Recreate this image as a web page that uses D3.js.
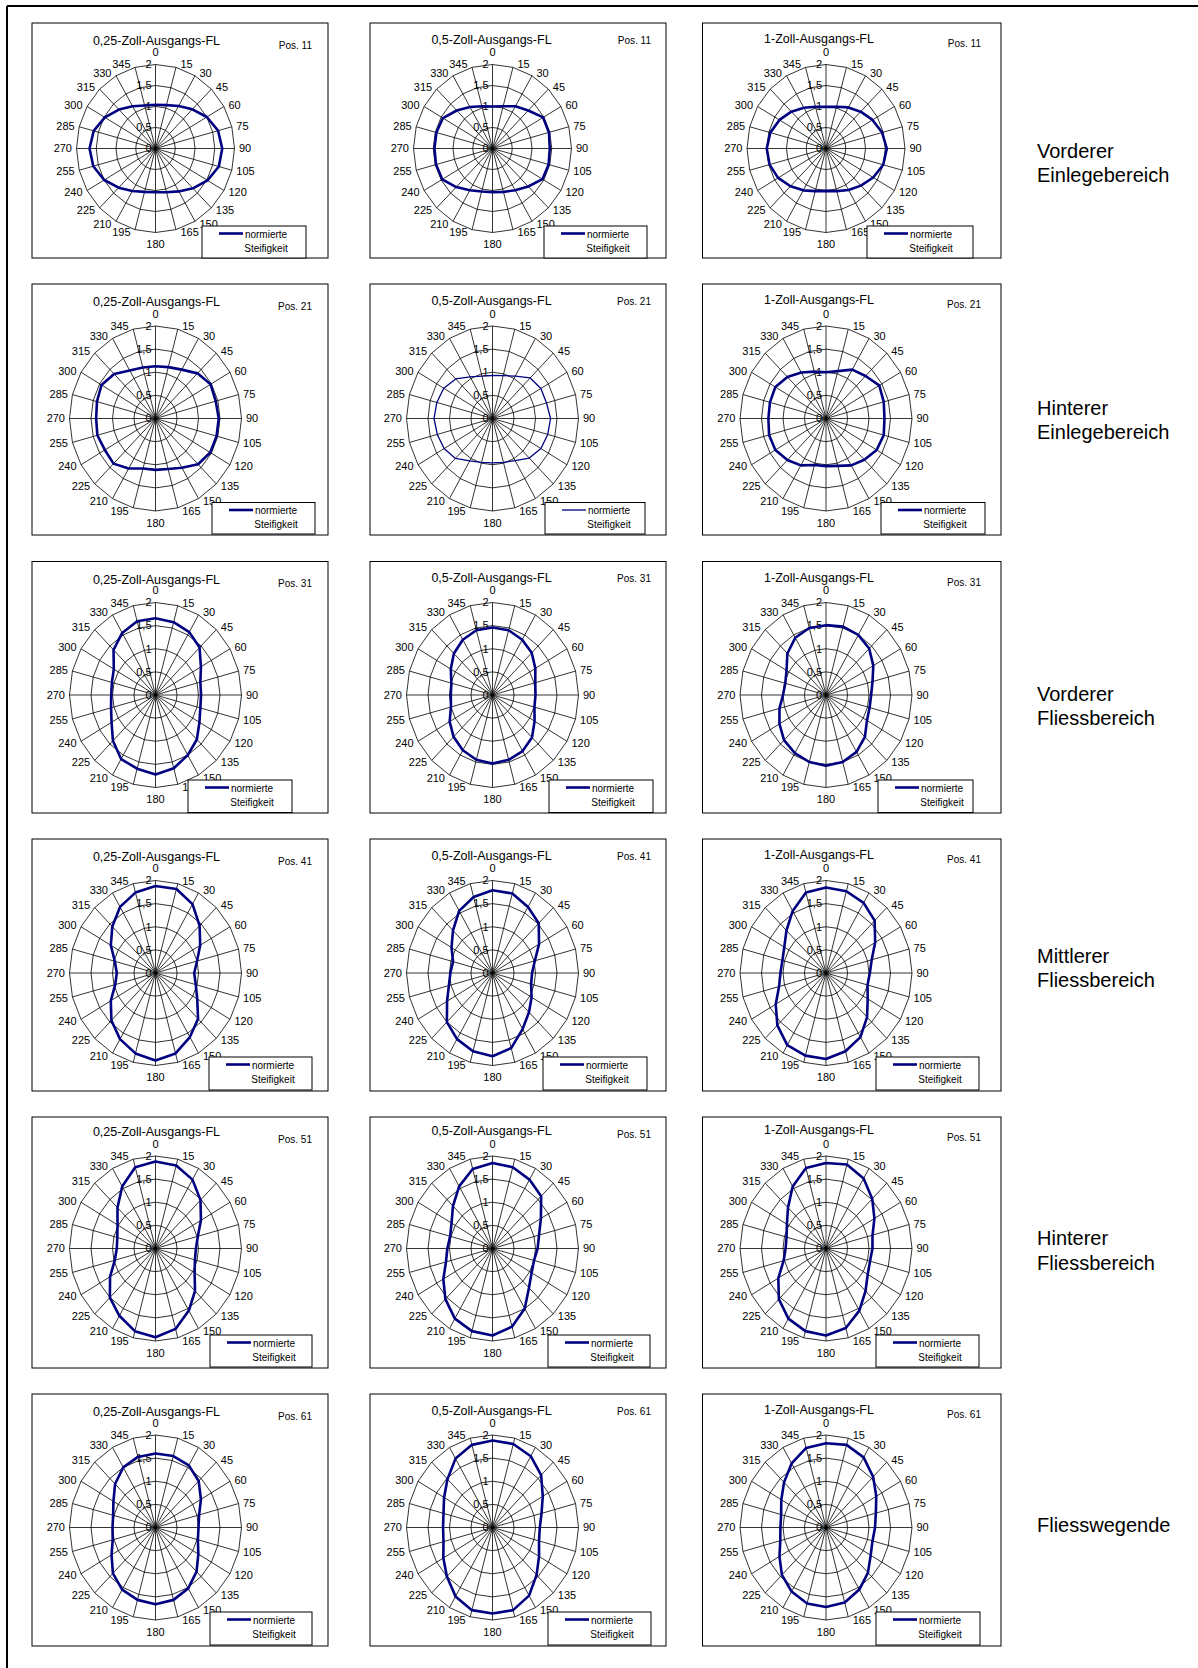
<!DOCTYPE html>
<html>
<head>
<meta charset="utf-8">
<script src="https://cdn.jsdelivr.net/npm/d3@7"></script>
<style>
  html, body { margin: 0; padding: 0; background: #fff; }
  svg { display: block; font-family: "Liberation Sans", Arial, sans-serif; }
</style>
</head>
<body>
<svg id="chart" width="1198" height="1668"></svg>
<script>
// ---- data -------------------------------------------------------------
const angles = [0, 15, 30, 45, 60, 75, 90, 105, 120, 135, 150, 165,
                180, 195, 210, 225, 240, 255, 270, 285, 300, 315, 330, 345];
const radialTicks = [0, 0.5, 1, 1.5, 2];
const radialTickLabels = ["0", "0,5", "1", "1,5", "2"];
const columnTitles = ["0,25-Zoll-Ausgangs-FL", "0,5-Zoll-Ausgangs-FL", "1-Zoll-Ausgangs-FL"];
const positionLabels = ["Pos. 11", "Pos. 21", "Pos. 31", "Pos. 41", "Pos. 51", "Pos. 61"];
const zoneLabels = [
  ["Vorderer", "Einlegebereich"],
  ["Hinterer", "Einlegebereich"],
  ["Vorderer", "Fliessbereich"],
  ["Mittlerer", "Fliessbereich"],
  ["Hinterer", "Fliessbereich"],
  ["Fliesswegende"]
];
const legendLabel = ["normierte", "Steifigkeit"];

// normierte Steifigkeit over angle, one array per position and start fibre length
const p11_025 = [1.04,1.07,1.17,1.32,1.50,1.64,1.69,1.66,1.52,1.34,1.18,1.08,1.04,1.07,1.17,1.32,1.50,1.63,1.67,1.62,1.48,1.31,1.16,1.06];
const p11_05  = [1.00,1.04,1.16,1.28,1.48,1.48,1.45,1.47,1.46,1.28,1.15,1.07,1.04,1.06,1.15,1.30,1.47,1.48,1.47,1.47,1.45,1.28,1.14,1.04];
const p11_1   = [0.99,1.03,1.13,1.24,1.36,1.47,1.54,1.50,1.38,1.25,1.14,1.05,1.01,1.05,1.15,1.27,1.40,1.48,1.50,1.46,1.36,1.24,1.12,1.03];

const p21_025 = [1.13,1.15,1.22,1.38,1.48,1.45,1.47,1.47,1.47,1.40,1.23,1.13,1.11,1.12,1.25,1.38,1.36,1.40,1.38,1.41,1.45,1.36,1.20,1.14];
const p21_05  = [0.93,0.96,1.06,1.24,1.30,1.30,1.35,1.33,1.30,1.21,1.05,0.98,0.96,0.98,1.06,1.22,1.30,1.33,1.36,1.34,1.31,1.21,1.04,0.95];
const p21_1   = [1.00,1.06,1.22,1.30,1.43,1.39,1.36,1.39,1.36,1.26,1.17,1.06,1.03,1.04,1.17,1.27,1.36,1.37,1.34,1.35,1.36,1.27,1.15,1.05];

const p31_025 = [1.66,1.63,1.57,1.45,1.22,1.08,1.06,1.08,1.18,1.36,1.50,1.64,1.72,1.65,1.60,1.40,1.18,1.07,1.03,1.05,1.12,1.38,1.55,1.65];
const p31_05  = [1.46,1.45,1.38,1.29,1.15,1.03,1.00,1.01,1.13,1.30,1.40,1.45,1.48,1.45,1.38,1.28,1.15,1.00,0.97,0.99,1.12,1.27,1.38,1.45];
const p31_1   = [1.51,1.53,1.50,1.42,1.27,1.12,1.05,1.05,1.10,1.28,1.42,1.50,1.53,1.50,1.45,1.38,1.25,1.12,1.00,0.98,1.06,1.27,1.43,1.50];

const p41_025 = [1.88,1.88,1.72,1.45,1.20,1.00,0.90,0.97,1.12,1.40,1.60,1.80,1.89,1.80,1.65,1.45,1.20,0.97,0.90,0.98,1.20,1.42,1.65,1.80];
const p41_05  = [1.79,1.78,1.65,1.52,1.25,1.02,0.92,0.93,1.05,1.20,1.40,1.68,1.80,1.75,1.65,1.50,1.22,1.05,0.98,0.95,1.10,1.30,1.55,1.70];
const p41_1   = [1.85,1.83,1.75,1.60,1.32,1.10,1.02,1.00,1.12,1.35,1.60,1.75,1.86,1.85,1.80,1.60,1.35,1.13,1.06,1.05,1.12,1.30,1.55,1.80];

const p51_025 = [1.88,1.86,1.72,1.48,1.22,1.02,0.94,0.95,1.05,1.30,1.55,1.80,1.92,1.85,1.68,1.50,1.22,0.98,0.90,0.92,1.02,1.25,1.55,1.82];
const p51_05  = [1.85,1.82,1.72,1.60,1.30,1.12,1.05,1.00,1.05,1.20,1.50,1.75,1.88,1.85,1.75,1.55,1.32,1.12,1.05,1.02,1.10,1.30,1.55,1.78];
const p51_1   = [1.85,1.88,1.75,1.52,1.30,1.12,1.08,1.06,1.12,1.30,1.55,1.78,1.88,1.85,1.75,1.55,1.28,1.02,0.94,0.95,1.05,1.25,1.55,1.80];

const p61_025 = [1.60,1.60,1.55,1.42,1.22,1.05,1.00,1.02,1.15,1.35,1.52,1.62,1.66,1.62,1.55,1.40,1.18,1.03,1.00,1.02,1.13,1.33,1.50,1.58];
const p61_05  = [1.88,1.87,1.78,1.60,1.35,1.18,1.10,1.12,1.25,1.45,1.70,1.85,1.86,1.85,1.72,1.50,1.32,1.18,1.15,1.18,1.30,1.48,1.72,1.85];
const p61_1   = [1.82,1.85,1.75,1.55,1.35,1.20,1.14,1.12,1.20,1.38,1.55,1.68,1.72,1.70,1.60,1.45,1.25,1.10,1.06,1.08,1.20,1.38,1.60,1.78];

const seriesGrid = [
  [p11_025, p11_05, p11_1],
  [p21_025, p21_05, p21_1],
  [p31_025, p31_05, p31_1],
  [p41_025, p41_05, p41_1],
  [p51_025, p51_05, p51_1],
  [p61_025, p61_05, p61_1]
];

// ---- layout -----------------------------------------------------------
const colBox = [[32, 328], [370, 666], [702.5, 1001]];
const rowBox = [[23, 258], [284, 535], [561.5, 813], [839, 1091], [1117, 1368], [1394, 1646]];
const colCenter = [155.5, 492.5, 826];
const rowCenter = [148.5, 418.5, 695, 973, 1248.5, 1527.5];
const rowRadius = [[79, 84], [86, 92.5], [86, 92.5], [86, 92.5], [86, 92.5], [86, 92.5]];
const titleX = [156.5, 491.5, 819];
const titleDy = [18, 16.5, 16];
const rowTitleShift = [0, 0, 0, 0, -3, 0];
const posRight = [312, 651, 981];
const posDy = [22, 17, 20.5];
const legendX = [
  [[202, 306], [544, 647], [867, 973]],
  [[212, 315], [545, 645], [881, 985]],
  [[188, 292], [549, 653], [878, 973]],
  [[209, 312], [543, 647], [876, 979]],
  [[210, 312], [548, 650], [876, 979]],
  [[210, 312], [548, 651], [876, 980]]
];
const legendY = [[226, 258], [502.5, 534], [780, 812.5], [1057, 1090], [1335, 1367], [1612, 1645]];
const zoneX = 1037;
const zoneCenter = [163, 420, 706, 968, 1250.5, 1525];
const lineColor = "#000080";

const svg = d3.select("#chart");

// page frame
svg.append("line").attr("x1", 7).attr("y1", 6).attr("x2", 1198).attr("y2", 6)
  .attr("stroke", "#000").attr("stroke-width", 2);
svg.append("line").attr("x1", 7).attr("y1", 6).attr("x2", 7).attr("y2", 1668)
  .attr("stroke", "#000").attr("stroke-width", 2);

const angleScale = d3.scaleLinear().domain([0, 360]).range([0, 2 * Math.PI]);

function drawPanel(r, c) {
  const data = seriesGrid[r][c];
  const [x0, x1] = colBox[c];
  const [y0, y1] = rowBox[r];
  const cx = colCenter[c], cy = rowCenter[r];
  const [rx, ry] = rowRadius[r];
  const sx = d3.scaleLinear().domain([0, 2]).range([0, rx]);
  const sy = d3.scaleLinear().domain([0, 2]).range([0, ry]);
  const pt = (a, v) => {
    const t = angleScale(a);
    return [cx + sx(v) * Math.sin(t), cy - sy(v) * Math.cos(t)];
  };

  const g = svg.append("g");
  g.append("rect").attr("x", x0).attr("y", y0).attr("width", x1 - x0).attr("height", y1 - y0)
    .attr("fill", "#fff").attr("stroke", "#000").attr("stroke-width", 1);

  // grid rings (polygonal, radar style)
  const ring = d3.line().curve(d3.curveLinearClosed);
  radialTicks.filter(t => t > 0).forEach(t => {
    g.append("path").attr("d", ring(angles.map(a => pt(a, t))))
      .attr("fill", "none").attr("stroke", "#000").attr("stroke-width", 0.8);
  });
  // spokes
  g.selectAll("line.spoke").data(angles).join("line").attr("class", "spoke")
    .attr("x1", cx).attr("y1", cy)
    .attr("x2", a => pt(a, 2)[0]).attr("y2", a => pt(a, 2)[1])
    .attr("stroke", "#000").attr("stroke-width", 0.8);

  // angle labels
  g.selectAll("text.ang").data(angles).join("text").attr("class", "ang")
    .attr("font-size", 11).attr("text-anchor", "middle").attr("dy", "0.35em")
    .attr("x", a => {
      const [vx] = pt(a, 2);
      const s = Math.sin(angleScale(a));
      if (Math.abs(s) < 0.01) return vx;
      const halfW = String(a).length * 3.06;
      return vx + Math.sign(s) * (halfW + 4.5);
    })
    .attr("y", a => {
      const [, vy] = pt(a, 2);
      const s = Math.sin(angleScale(a)), k = Math.cos(angleScale(a));
      if (Math.abs(s) < 0.01) return vy - k * 12;
      return vy - k * 3;
    })
    .text(a => a);

  // radial value labels along the 0° spoke
  g.selectAll("text.rad").data(radialTicks).join("text").attr("class", "rad")
    .attr("font-size", 11).attr("text-anchor", "end").attr("dy", "0.35em")
    .attr("x", cx - 4).attr("y", t => cy - sy(t))
    .text((t, i) => radialTickLabels[i]);

  // data polygon
  const thin = (r === 1 && c === 1);
  g.append("path")
    .attr("d", ring(angles.map((a, i) => pt(a, data[i]))))
    .attr("fill", "none").attr("stroke", lineColor)
    .attr("stroke-width", thin ? 1.3 : 2.6).attr("stroke-linejoin", "round");

  // title and position
  g.append("text").attr("x", titleX[c]).attr("y", y0 + titleDy[c] + rowTitleShift[r]).attr("dy", "0.35em")
    .attr("text-anchor", "middle").attr("font-size", 12.5).text(columnTitles[c]);
  g.append("text").attr("x", posRight[c]).attr("y", y0 + posDy[c]).attr("dy", "0.35em")
    .attr("text-anchor", "end").attr("font-size", 10).text(positionLabels[r]);

  // legend
  const [lx0, lx1] = legendX[r][c];
  const [ly0, ly1] = legendY[r];
  g.append("rect").attr("x", lx0).attr("y", ly0).attr("width", lx1 - lx0).attr("height", ly1 - ly0)
    .attr("fill", "#fff").attr("stroke", "#000").attr("stroke-width", 1);
  g.append("line").attr("x1", lx0 + 17).attr("x2", lx0 + 41)
    .attr("y1", ly0 + 7.5).attr("y2", ly0 + 7.5)
    .attr("stroke", lineColor).attr("stroke-width", thin ? 1.3 : 2.6);
  legendLabel.forEach((t, i) => {
    g.append("text").attr("x", lx0 + 64).attr("y", ly0 + 8 + i * 14).attr("dy", "0.35em")
      .attr("text-anchor", "middle").attr("font-size", 10).text(t);
  });
}

for (let r = 0; r < 6; r++) {
  for (let c = 0; c < 3; c++) drawPanel(r, c);
  const lines = zoneLabels[r];
  lines.forEach((t, i) => {
    svg.append("text").attr("x", zoneX)
      .attr("y", zoneCenter[r] + (i - (lines.length - 1) / 2) * 24.5).attr("dy", "0.35em")
      .attr("font-size", 20).text(t);
  });
}
</script>
</body>
</html>
